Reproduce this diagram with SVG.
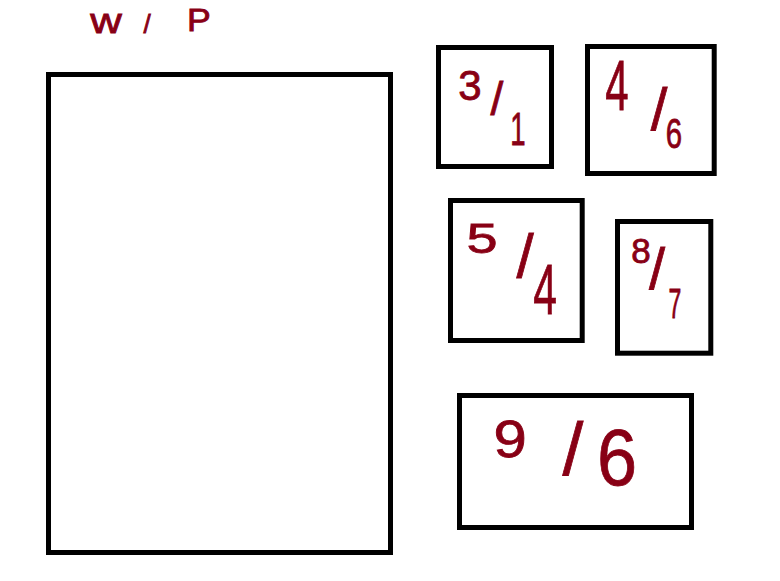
<svg xmlns="http://www.w3.org/2000/svg" width="780" height="581" viewBox="0 0 780 581">
<style>
.box{fill:#ffffff;stroke:#000000;stroke-width:5}
.hw{font-family:"Liberation Sans","DejaVu Sans",sans-serif;fill:#880015;stroke:#880015;stroke-width:0.8;text-anchor:middle}
</style>
<rect width="780" height="581" fill="#ffffff"/>
<g id="title">
<text class="hw" transform="translate(106,33) scale(1.25,1)" font-size="35">w</text>
<text class="hw" x="147" y="33" font-size="26">/</text>
<text class="hw" transform="translate(199,31) scale(1.15,1)" font-size="31">P</text>
</g>
<g id="wip-area">
<rect class="box" x="48.5" y="74.5" width="342" height="478"/>
</g>
<g id="box-3-1">
<rect class="box" x="438.5" y="47.5" width="113" height="119"/>
<text class="hw" x="470" y="100" font-size="42">3</text>
<text class="hw" x="497" y="115" font-size="46">/</text>
<text class="hw" transform="translate(518,145) scale(0.6,1)" font-size="46">1</text>
</g>
<g id="box-4-6">
<rect class="box" x="587.5" y="46.5" width="126.7" height="127"/>
<text class="hw" transform="translate(617,110) scale(0.6,1)" font-size="70">4</text>
<text class="hw" x="659" y="130" font-size="60">/</text>
<text class="hw" transform="translate(674,148) scale(0.7,1)" font-size="42">6</text>
</g>
<g id="box-5-4">
<rect class="box" x="450.5" y="200.5" width="131.7" height="140"/>
<text class="hw" transform="translate(482,253) scale(1.3,1)" font-size="43">5</text>
<text class="hw" x="525" y="277" font-size="62">/</text>
<text class="hw" transform="translate(545,314) scale(0.6,1)" font-size="71">4</text>
</g>
<g id="box-8-7">
<rect class="box" x="617.5" y="221.5" width="93.3" height="131.7"/>
<text class="hw" x="641" y="263" font-size="35">8</text>
<text class="hw" x="657" y="289" font-size="58">/</text>
<text class="hw" transform="translate(675,318) scale(0.55,1)" font-size="42">7</text>
</g>
<g id="box-9-16">
<rect class="box" x="459.5" y="395.5" width="232" height="132"/>
<text class="hw" transform="translate(510,457) scale(1.15,1)" font-size="52">9</text>
<text class="hw" x="573" y="475" font-size="75">/</text>
<text class="hw" transform="translate(617,485) scale(0.9,1)" font-size="80">6</text>
</g>
<g id="connectors"></g>
</svg>
